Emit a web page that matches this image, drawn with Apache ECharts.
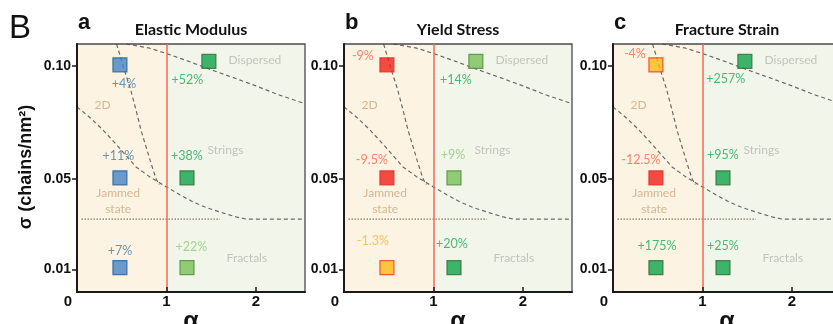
<!DOCTYPE html>
<html>
<head>
<meta charset="utf-8">
<script src="https://cdn.jsdelivr.net/npm/echarts@6/dist/echarts.min.js"></script>
<style>
  html, body { margin: 0; padding: 0; background: #ffffff; }
  #chart { width: 833px; height: 324px; }
</style>
</head>
<body>
<div id="chart"></div>
<script>
// ---------------- data ----------------
const figureLetter = 'B';
const panelLetters = ['a', 'b', 'c'];
const panelTitles = ['Elastic Modulus', 'Yield Stress', 'Fracture Strain'];

// samples: particle-brush aspect ratio (alpha) and grafting density (sigma)
const sampleAlpha = [0.48, 0.48, 0.48, 1.475, 1.23, 1.23];
const sampleSigma = [0.1005, 0.0505, 0.0108, 0.102, 0.0505, 0.0108];

// relative change in each property (%)
const elasticChange = [4, 11, 7, 52, 38, 22];
const yieldChange = [-9, -9.5, -1.3, 14, 9, 20];
const strainChange = [-4, -12.5, 175, 257, 95, 25];

// marker class of each sample, and the class used for its label text
const elasticClass = ['blue', 'blue', 'blue', 'green', 'green', 'lime'];
const yieldClass = ['red', 'red', 'amber', 'lime', 'lime', 'green'];
const strainClass = ['amber', 'red', 'green', 'green', 'green', 'green'];
const elasticLabelClass = ['blue', 'blue', 'blue', 'green', 'green', 'lime'];
const yieldLabelClass = ['red', 'red', 'amber', 'green', 'lime', 'green'];
const strainLabelClass = ['red', 'red', 'green', 'green', 'green', 'green'];

// axes
const alphaTicks = [0, 1, 2];
const sigmaTicks = [0.01, 0.05, 0.10];
const alphaMax = 2.55;
const sigmaMax = 0.1097;
const alphaCritical = 1;
const alphaName = 'α';
const sigmaName = 'σ (chains/nm²)';

// morphology boundaries
const dispersedAlpha = [0.55, 0.8, 1.0, 1.25, 1.5, 1.75, 2.0, 2.25, 2.55];
const dispersedSigma = [0.1097, 0.108, 0.1055, 0.102, 0.0983, 0.0948, 0.0912, 0.0873, 0.0833];
const twoDAlpha = [0.443, 0.52, 0.6, 0.66, 0.715, 0.77, 0.82, 0.88, 0.92];
const twoDSigma = [0.1097, 0.0995, 0.0895, 0.0805, 0.0717, 0.0645, 0.058, 0.0505, 0.0473];
const stringsAlpha = [0, 0.15, 0.29, 0.45, 0.66, 0.83, 1.0, 1.15, 1.3, 1.45, 1.63, 1.78, 1.9, 2.55];
const stringsSigma = [0.0819, 0.077, 0.0717, 0.0648, 0.0553, 0.0505, 0.0465, 0.043, 0.0398, 0.0373, 0.035, 0.0332, 0.0322, 0.0322];
const jammedAlpha = [0.05, 1.6];
const jammedSigma = [0.0322, 0.0322];

// morphology region names
const regionNames = ['Dispersed', 'Strings', 'Fractals', '2D', 'Jammed\nstate'];
const regionAlpha = [1.99, 1.66, 1.90, 0.285, 0.46];
const regionSigma = [0.1027, 0.0628, 0.0150, 0.0827, 0.0400];

// ---------------- layout & style ----------------
const gridLefts = [77, 344, 613];
const gridTop = 44, gridWidth = 228, gridHeight = 248;

const labelOffsets = [
  [[4, 19], [-1.5, -22], [0, -17], [-21.5, 19], [0, -22], [4.5, -21]],
  [[-24, -9], [-15, -18], [-14, -27], [-20, 19], [-1, -23], [-2, -23.5]],
  [[-21, -11], [-15, -18], [1, -22], [-19, 18], [0, -23], [0, -22]]
];

const markFill = { blue: '#4383c4', green: '#10a24c', lime: '#79c159', red: '#f0211d', amber: '#fcb814' };
const markBorder = { blue: '#245f9a', green: '#2d6b33', lime: '#4f8a3a', red: '#e02a1c', amber: '#ee3a1c' };
const labelColor = { blue: '#3d7ca8', green: '#1daa5a', lime: '#8ccc74', red: '#f2684a', amber: '#f8b33c' };
const regionColor = ['#b5b8b0', '#b5b8b0', '#b5b8b0', '#c9a77a', '#c9a77a'];

const AXIS_FONT = 'Liberation Sans';
const TEXT_FONT = 'Lato';

const panelChanges = [elasticChange, yieldChange, strainChange];
const panelClasses = [elasticClass, yieldClass, strainClass];
const panelLabelClasses = [elasticLabelClass, yieldLabelClass, strainLabelClass];

function fmtChange(v) { return (v > 0 ? '+' : '') + v + '%'; }
function zip(xs, ys) { return xs.map((x, i) => [x, ys[i]]); }

const grids = [], xAxes = [], yAxes = [], series = [], graphics = [];

graphics.push({
  type: 'text', left: 9, top: 12,
  style: { text: figureLetter, font: '33px "Liberation Sans"', fill: '#111' }
});

gridLefts.forEach((left, i) => {
  grids.push({
    left: left, top: gridTop, width: gridWidth, height: gridHeight,
    outerBoundsMode: 'none', containLabel: false,
    show: true, backgroundColor: 'transparent',
    borderColor: '#4a4a4a', borderWidth: 1.3, z: 5
  });

  xAxes.push({
    gridIndex: i, type: 'value', min: 0, max: alphaMax, z: 6,
    axisLine: { show: true, onZero: false, lineStyle: { color: '#1a1a1a', width: 2 } },
    axisTick: { show: true, inside: true, length: 5, customValues: alphaTicks.filter(v => v > 0),
      lineStyle: { color: '#1a1a1a', width: 1.5 } },
    axisLabel: {
      customValues: alphaTicks, showMinLabel: true, showMaxLabel: true, margin: 2,
      formatter: v => (v === 0 ? '{z|0}' : '{n|' + v + '}'),
      rich: {
        z: { fontFamily: AXIS_FONT, fontWeight: 'bold', fontSize: 15, color: '#111', padding: [0, 18, 0, 0] },
        n: { fontFamily: AXIS_FONT, fontWeight: 'bold', fontSize: 15, color: '#111' }
      }
    },
    splitLine: { show: false },
    name: alphaName, nameLocation: 'middle', nameGap: 18, nameMoveOverlap: false,
    nameTextStyle: { fontFamily: AXIS_FONT, fontWeight: 'bold', fontSize: 25, color: '#111' }
  });

  yAxes.push({
    gridIndex: i, type: 'value', min: 0, max: sigmaMax, z: 6,
    axisLine: { show: true, onZero: false, lineStyle: { color: '#1a1a1a', width: 2 } },
    axisTick: { show: true, inside: false, length: 5, customValues: sigmaTicks,
      lineStyle: { color: '#1a1a1a', width: 1.5 } },
    axisLabel: {
      customValues: sigmaTicks, margin: 6,
      formatter: v => v.toFixed(2),
      fontFamily: AXIS_FONT, fontWeight: 'bold', fontSize: 14, color: '#111'
    },
    splitLine: { show: false }
  });

  // shaded alpha < 1 and alpha > 1 regions, with the critical alpha line
  series.push({
    type: 'line', xAxisIndex: i, yAxisIndex: i, data: [[0, 0]], symbol: 'none', silent: true, z: 1,
    lineStyle: { width: 0 },
    markArea: {
      silent: true,
      data: [
        [{ xAxis: 0, itemStyle: { color: '#fdf3e2' } }, { xAxis: alphaCritical }],
        [{ xAxis: alphaCritical, itemStyle: { color: '#f2f6ea' } }, { xAxis: alphaMax }]
      ]
    },
    markLine: {
      silent: true, symbol: ['none', 'none'], label: { show: false },
      lineStyle: { color: '#f26a55', width: 1.5, type: 'solid' },
      data: [{ xAxis: alphaCritical }]
    }
  });

  const dash = { color: '#6a6a6a', width: 1.2, type: [4, 3] };
  [[dispersedAlpha, dispersedSigma], [twoDAlpha, twoDSigma], [stringsAlpha, stringsSigma]].forEach(([xs, ys]) => {
    series.push({
      type: 'line', xAxisIndex: i, yAxisIndex: i, data: zip(xs, ys), symbol: 'none',
      smooth: false, silent: true, z: 2, lineStyle: dash
    });
  });
  series.push({
    type: 'line', xAxisIndex: i, yAxisIndex: i, data: zip(jammedAlpha, jammedSigma), symbol: 'none',
    silent: true, z: 2, lineStyle: { color: '#8d7a58', width: 1.2, type: [1.5, 1.5] }
  });

  // morphology names
  series.push({
    type: 'scatter', xAxisIndex: i, yAxisIndex: i, symbolSize: 0, silent: true, z: 2,
    data: regionNames.map((n, k) => ({
      value: [regionAlpha[k], regionSigma[k]], name: n,
      label: { show: true, position: 'inside', formatter: n, color: regionColor[k],
        fontFamily: TEXT_FONT, fontSize: 12, lineHeight: 16 }
    }))
  });

  // samples with their relative change
  const changes = panelChanges[i], cls = panelClasses[i], lcls = panelLabelClasses[i];
  series.push({
    type: 'scatter', xAxisIndex: i, yAxisIndex: i, symbol: 'rect', symbolSize: 14, z: 3,
    data: sampleAlpha.map((a, k) => ({
      value: [a, sampleSigma[k]],
      itemStyle: { color: markFill[cls[k]], borderColor: markBorder[cls[k]], borderWidth: 1.2 },
      label: {
        show: true, position: 'inside', offset: labelOffsets[i][k],
        formatter: fmtChange(changes[k]), color: labelColor[lcls[k]],
        fontFamily: TEXT_FONT, fontSize: 12.5
      }
    }))
  });

  // panel letter and title
  graphics.push({
    type: 'text', left: left + 1, top: 12,
    style: { text: panelLetters[i], font: 'bold 22px "Liberation Sans"', fill: '#111' }
  });
  graphics.push({
    type: 'text', x: left + gridWidth / 2, y: 29.5,
    style: { text: panelTitles[i], font: 'bold 16px Lato', fill: '#111', align: 'center', verticalAlign: 'middle' }
  });
});

graphics.push({
  type: 'text', x: 26, y: 167, rotation: Math.PI / 2,
  style: { text: sigmaName, font: 'bold 18px "Liberation Sans"', fill: '#111', align: 'center', verticalAlign: 'middle' }
});

const chart = echarts.init(document.getElementById('chart'), null, { renderer: 'canvas' });
chart.setOption({
  animation: false,
  grid: grids, xAxis: xAxes, yAxis: yAxes, series: series, graphic: graphics
});
</script>
</body>
</html>
